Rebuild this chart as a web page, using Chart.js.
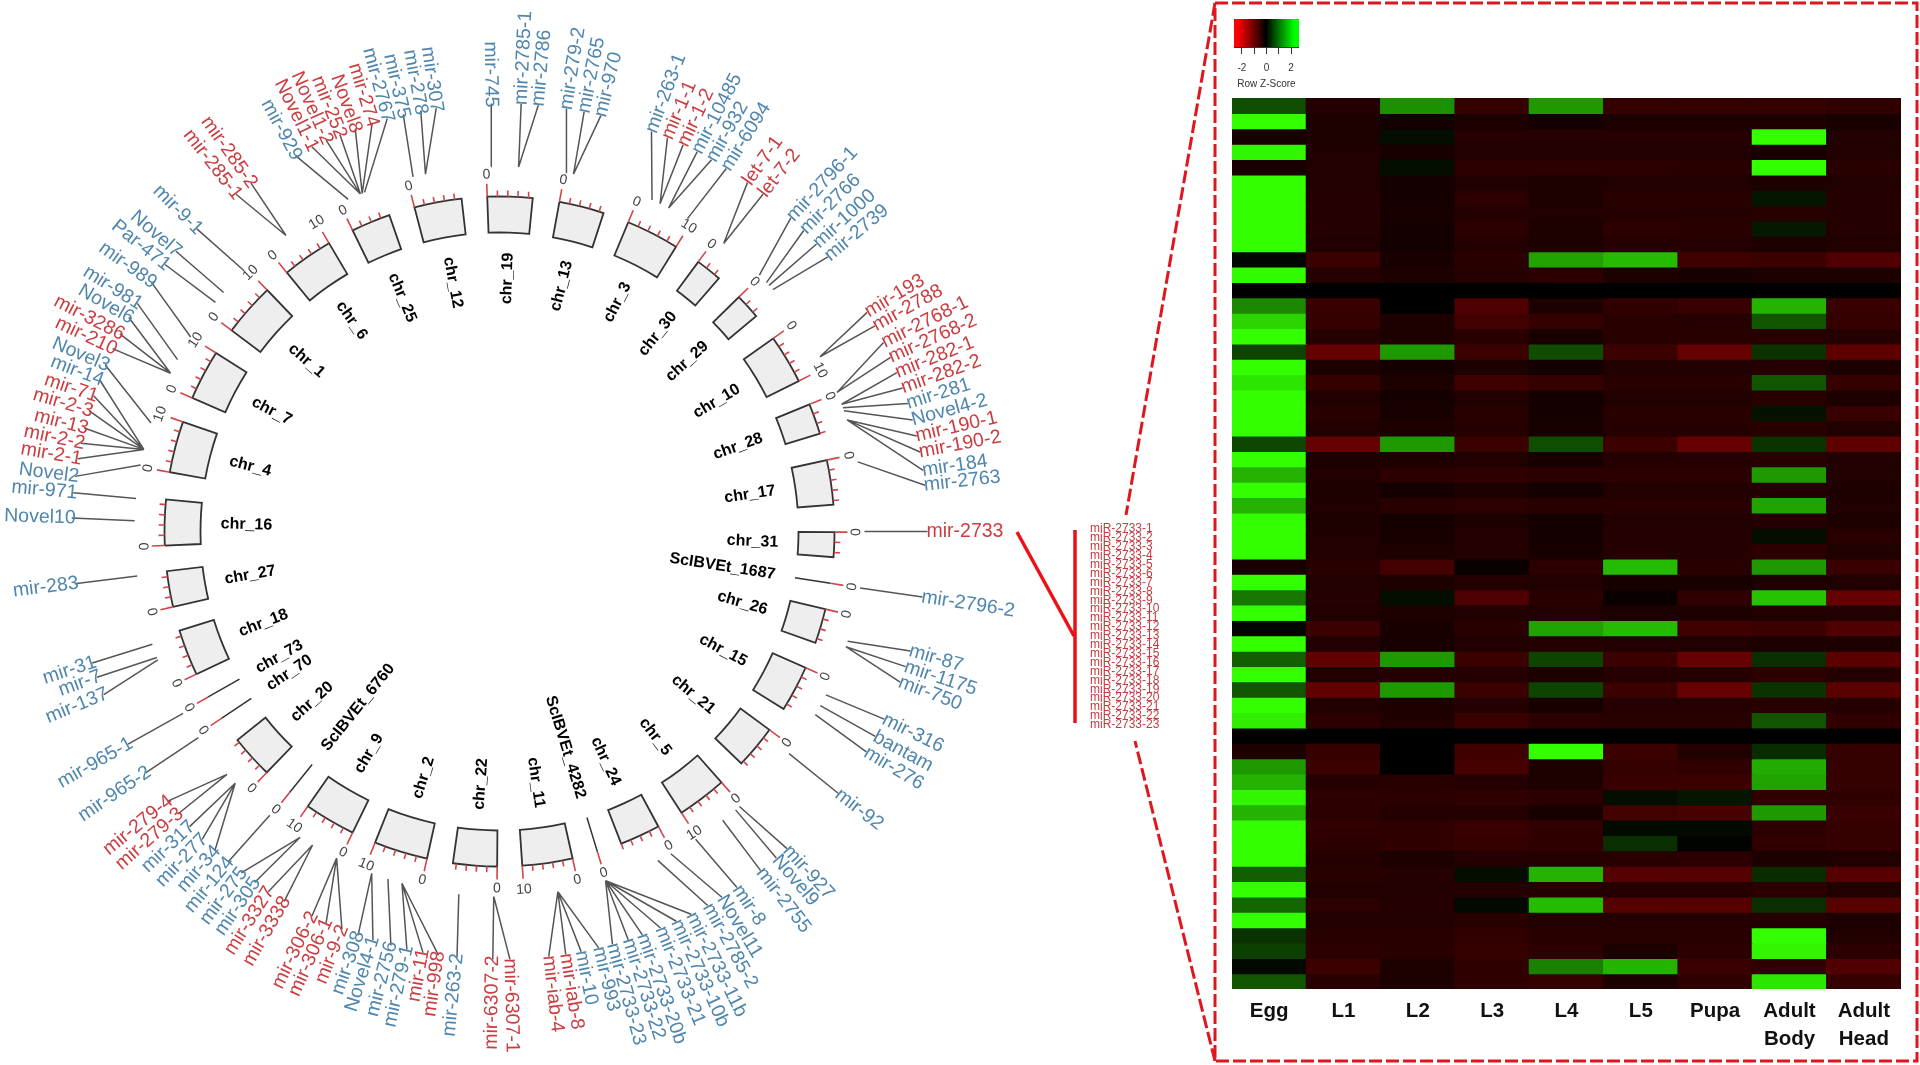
<!DOCTYPE html>
<html>
<head>
<meta charset="utf-8">
<title>mir circos and heatmap</title>
<script src="https://cdn.jsdelivr.net/npm/chart.js@4"></script>
<style>
	html, body { margin: 0; padding: 0; background: #fff; overflow: hidden; }
	#page { position: relative; width: 1920px; height: 1065px; }
	canvas { position: absolute; display: block; }
</style>
</head>
<body>
<div id="page">
	<canvas id="ringChart" style="left:0;top:0"></canvas>
	<canvas id="mainChart" style="left:0;top:0"></canvas>
	<canvas id="heatChart" style="left:1232px;top:98px"></canvas>
	<canvas id="keyChart" style="left:1234px;top:19px"></canvas>
</div>
<script>
/* =========================================
CHROMOSOME RING (degrees clockwise from top)
============================================*/
const chrNames = ["chr_19","chr_13","chr_3","chr_30","chr_29","chr_10","chr_28","chr_17","chr_31","ScIBVEt_1687","chr_26","chr_15","chr_21","chr_5","chr_24","ScIBVEt_4282","chr_11","chr_22","chr_2","chr_9","ScIBVEt_6760","chr_20","chr_70","chr_73","chr_18","chr_27","chr_16","chr_4","chr_7","chr_1","chr_6","chr_25","chr_12"];
const chrStart = [-2.1,10.3,22.6,36.4,45.6,54.8,67.7,77.7,90.1,98.9,103.4,114,126.3,138.5,151.7,163,167.4,180.4,192.5,206,218.8,224,236.1,240.4,244.8,257,267.6,280.2,293.5,306.9,320.6,334,345.3];
const chrSpan = [7.8,7.8,9.2,4.5,4.4,8.5,5.3,7.7,4.3,0,6,8,7.5,8.6,7,0,8.7,7.6,9.3,8.9,0,7.5,0,0,8,6.2,7.9,8.9,8.7,9.2,8.8,6.8,8.2];

/* =========================================
MIRNA LABELS: name, label angle, root angle
============================================*/
const mirNames = ["mir-745","mir-2785-1","mir-2786","mir-279-2","mir-2765","mir-970","mir-263-1","mir-1-1","mir-1-2","mir-10485","mir-932","mir-6094","let-7-1","let-7-2","mir-2796-1","mir-2766","mir-1000","mir-2739","mir-193","mir-2788","mir-2768-1","mir-2768-2","mir-282-1","mir-282-2","mir-281","Novel4-2","mir-190-1","mir-190-2","mir-184","mir-2763","mir-2733","mir-2796-2","mir-87","mir-1175","mir-750","mir-316","bantam","mir-276","mir-92","mir-927","Novel9","mir-2755","mir-8","Novel11","mir-2785-2","mir-2733-11b","mir-2733-10b","mir-2733-21","mir-2733-20b","mir-2733-22","mir-2733-23","mir-993","mir-10","mir-iab-8","mir-iab-4","mir-6307-1","mir-6307-2","mir-263-2","mir-998","mir-11","mir-279-1","mir-2756","Novel4-1","mir-308","mir-9-2","mir-306-1","mir-306-2","mir-3338","mir-3327","mir-305","mir-275","mir-124","mir-34","mir-277","mir-317","mir-279-3","mir-279-4","mir-965-2","mir-965-1","mir-137","mir-7","mir-31","mir-283","Novel10","mir-971","Novel2","mir-2-1","mir-2-2","mir-13","mir-2-3","mir-71","mir-14","Novel3","mir-210","mir-3286","Novel6","mir-981","mir-989","Par-471","Novel7","mir-9-1","mir-285-1","mir-285-2","mir-929","Novel1-1","Novel1-2","mir-252","Novel8","mir-274","mir-2767","mir-375","mir-278","mir-307"];
const mirAngle = [358.9,2.9,5.2,9,11.4,13.7,20.8,23.1,25.4,27.5,29.7,32,35.4,38,42.9,45.3,47.8,50.1,59.2,61.3,63.8,66,68.2,70.4,72.6,74.9,77.1,79.3,81.8,83.8,90,98.8,106.2,108.4,110.6,116,118.6,121,127.7,137.8,139.7,142.4,146.3,148.7,150.9,153.4,155.6,157.9,160.5,162.5,164.7,166.6,169,171.1,173.4,178.6,180.9,185.7,188.2,190.3,192.5,194.7,197.2,199.3,201.6,203.9,206,210.2,212.7,214.9,217.1,219.4,221.7,224,226.4,228.7,230.9,235.7,240.2,247.6,250.1,252.1,263,271.8,275.2,277.4,279.8,281.9,284,286.4,288.5,290.8,292.9,295.3,297.5,300,302.2,305.6,308.6,310.9,315,322,324.5,331.5,334,336.1,338.1,340.3,342.7,344.8,347,349.4,351.5];
const mirRoot = [358.7,3,3,10.6,11.7,11.7,24.7,26.1,26.1,27.6,27.6,31,37.9,37.9,45.4,47,47.6,48.5,61.4,61.4,67.6,67.6,69.6,69.6,70.2,70.7,72.2,72.2,72.2,79,90,98.9,107.5,108.4,108.4,116.6,118.5,120.1,127.5,138.9,139.7,142.3,147.5,152,154.3,163.1,163.1,163.1,163.1,163.1,163.1,170.8,170.8,170.8,170.8,180.9,180.9,186.4,195.5,195.5,195.5,197.8,200.5,200.5,206.5,206.5,206.5,210.8,210.8,213.1,213.1,219,226.4,226.4,226.4,228.3,228.3,235.6,240.1,249.4,249.8,252,263,271.7,275.2,280.5,283,283,283,283,283,283,287.3,295.7,295.7,295.7,298.1,302.2,308.9,310.9,315.6,324.2,324.2,335.5,337.6,337.6,337.6,337.9,337.9,338.3,346.3,348.3,348.3];
// these are red, everything else is blue
const redMirs = ["let-7-1","let-7-2","mir-1-1","mir-1-2","mir-193","mir-2788","mir-2768-1","mir-2768-2","mir-282-1","mir-282-2","mir-190-1","mir-190-2","mir-2733","mir-iab-8","mir-iab-4","mir-6307-1","mir-6307-2","mir-998","mir-11","mir-9-2","mir-306-1","mir-306-2","mir-3338","mir-3327","mir-279-3","mir-279-4","mir-2-1","mir-2-2","mir-13","mir-2-3","mir-71","mir-210","mir-3286","mir-285-1","mir-285-2","Novel1-1","Novel1-2","mir-252","Novel8","mir-274"];

/* =========================================
HEATMAP
============================================*/
const stages = ["Egg","L1","L2","L3","L4","L5","Pupa",["Adult","Body"],["Adult","Head"]];
const zRows = [
	[.9,-.4,1.7,-.6,1.8,-.6,-.6,-.6,-.55],
	[3,-.3,-.2,-.3,-.2,-.3,-.3,-.3,-.25],
	[-.25,-.3,.15,-.4,-.4,-.4,-.4,3,-.35],
	[2.9,-.35,-.25,-.35,-.35,-.35,-.35,-.25,-.35],
	[-.25,-.35,.15,-.5,-.5,-.5,-.45,3,-.45],
	[3,-.35,-.2,-.35,-.3,-.35,-.35,-.3,-.35],
	[3,-.4,-.2,-.5,-.3,-.45,-.45,.25,-.4],
	[3,-.4,-.25,-.4,-.35,-.4,-.4,-.45,-.4],
	[3,-.4,-.2,-.5,-.3,-.5,-.45,.3,-.4],
	[3,-.35,-.2,-.4,-.3,-.4,-.4,-.3,-.35],
	[.08,-.7,-.25,-.45,1.9,2.2,-.75,-.7,-1],
	[2.95,-.4,-.3,-.4,-.5,-.3,-.25,-.3,-.3],
	[0,0,0,0,0,0,0,0,0],
	[1.6,-.65,0,-.95,-.3,-.55,-.65,2.1,-.65],
	[2.5,-.6,-.3,-.8,-.6,-.45,-.4,1,-.6],
	[3,-.4,-.3,-.45,-.25,-.45,-.45,-.45,-.4],
	[.8,-1.3,1.8,-.7,.9,-.7,-1.35,.6,-1.2],
	[3,-.3,-.2,-.3,-.2,-.35,-.35,-.4,-.3],
	[2.7,-.6,-.3,-.75,-.6,-.45,-.45,1,-.6],
	[3,-.35,-.2,-.35,-.2,-.35,-.35,-.45,-.3],
	[3,-.45,-.25,-.45,-.2,-.45,-.45,.2,-.65],
	[3,-.35,-.3,-.4,-.25,-.4,-.4,-.45,-.35],
	[.85,-1.3,1.8,-.7,.9,-.7,-1.35,.6,-1.2],
	[3,-.3,-.3,-.35,-.25,-.4,-.4,-.45,-.35],
	[2.1,-.35,-.5,-.55,-.5,-.5,-.5,1.8,-.35],
	[3,-.3,-.2,-.3,-.2,-.35,-.35,-.4,-.3],
	[2.1,-.35,-.45,-.5,-.45,-.45,-.45,1.9,-.35],
	[3,-.3,-.2,-.3,-.2,-.35,-.35,-.4,-.3],
	[3,-.35,-.25,-.4,-.2,-.4,-.4,.15,-.45],
	[3,-.35,-.3,-.4,-.25,-.4,-.4,-.5,-.35],
	[-.25,-.45,-.8,-.1,-.5,2.2,-.45,1.8,-.65],
	[3,-.35,-.3,-.4,-.35,-.25,-.25,-.3,-.35],
	[1.4,-.4,.15,-.95,-.45,-.1,-.55,2.3,-1.3],
	[3,-.35,-.3,-.35,-.35,-.3,-.3,-.35,-.35],
	[.08,-.7,-.25,-.45,1.9,2.2,-.75,-.7,-1],
	[3,-.35,-.25,-.35,-.4,-.35,-.35,-.3,-.3],
	[1.1,-1.25,1.8,-.7,.8,-.7,-1.35,.55,-1.15],
	[3,-.35,-.4,-.4,-.3,-.4,-.4,-.5,-.4],
	[1,-1.25,1.8,-.7,.8,-.7,-1.35,.6,-1.15],
	[3,-.35,-.3,-.4,-.25,-.4,-.4,-.45,-.4],
	[2.8,-.5,-.35,-.7,-.5,-.45,-.45,1,-.55],
	[0,0,0,0,0,0,0,0,0],
	[-.3,-.6,0,-.75,3,-.7,-.35,.5,-.6],
	[1.8,-.7,0,-.85,-.3,-.6,-.55,2,-.6],
	[2.1,-.4,-.45,-.4,-.3,-.65,-.7,1.9,-.6],
	[2.9,-.5,-.5,-.55,-.5,.15,.25,-.55,-.55],
	[2.1,-.5,-.4,-.4,-.25,-.8,-.9,1.8,-.65],
	[3,-.55,-.55,-.65,-.55,.12,.12,-.5,-.6],
	[3,-.5,-.55,-.6,-.55,.55,.04,-.55,-.6],
	[3,-.4,-.3,-.4,-.4,-.45,-.5,-.3,-.35],
	[1.1,-.45,-.4,.15,2.1,-1.05,-1.05,.5,-1.05],
	[3,-.35,-.35,-.4,-.4,-.4,-.4,-.5,-.35],
	[1.2,-.5,-.4,.1,2.2,-1.05,-1.05,.55,-1.1],
	[3,-.35,-.35,-.45,-.35,-.4,-.4,-.4,-.3],
	[.6,-.45,-.45,-.55,-.45,-.45,-.45,3,-.35],
	[.75,-.5,-.45,-.6,-.5,-.3,-.5,2.9,-.5],
	[.1,-.7,-.3,-.55,1.5,2.1,-.65,-.55,-1],
	[1,-.45,-.3,-.55,-.6,-.3,-.55,2.7,-.6]
];

const keySteps = [-2.6,-2.4,-2.2,-2,-1.8,-1.6,-1.4,-1.2,-1,-.8,-.6,-.4,-.2,0,.2,.4,.6,.8,1,1.2,1.4,1.6,1.8,2,2.2,2.4,2.6];
const keyTicks = [-2,-1,0,1,2];

/* =========================================
CALLOUT (red list and dashed zoom box, in page units)
============================================*/
const calloutNames = ["miR-2733-1","miR-2733-2","miR-2733-3","miR-2733-4","miR-2733-5","miR-2733-6","miR-2733-7","miR-2733-8","miR-2733-9","miR-2733-10","miR-2733-11","miR-2733-12","miR-2733-13","miR-2733-14","miR-2733-15","miR-2733-16","miR-2733-17","miR-2733-18","miR-2733-19","miR-2733-20","miR-2733-21","miR-2733-22","miR-2733-23"];
const boxX = [1215,1917,1917,1215,1215];
const boxY = [3,3,1061,1061,3];
const slantTopX = [1215,1126];
const slantTopY = [3,515];
const slantBottomX = [1215,1135];
const slantBottomY = [1061,741];
const barX = [1075,1075];
const barY = [530,723];
const branchX = [1017,1074];
const branchY = [532,636];

/* layout of the ring */
const CX = 499.5, CY = 531.5;
const R_OUT = 335, R_IN = 299, R_ROOT = 365, R_LABEL = 428, R_CHR = 279, R_TICKTEXT = 357;
const R_TEXT_RIGHT = 427, R_TEXT_LEFT = 424;
const RED = "#cb3d40", BLUE = "#4f86ad", TICK_RED = "#d2454a", LINE = "#555555";
const SANS = "'Liberation Sans', Arial, sans-serif";

function polar(deg, r) {
	const a = deg * Math.PI / 180;
	return { x: CX + r * Math.sin(a), y: CY - r * Math.cos(a) };
}
function gap() { return { x: NaN, y: NaN }; }
function zip(xs, ys) { return xs.map((x, i) => ({ x: x, y: ys[i] })); }
function norm(deg) { return (deg + 360) % 360; }

// -3 dark red, 0 black, 3 lime
function zColor(z) {
	const t = Math.min(Math.abs(z) / 3, 1);
	if (z >= 0) return `rgb(${Math.round(50 * t)},${Math.round(255 * t)},0)`;
	return `rgb(${Math.round(255 * 0.8 * Math.pow(t, 0.85))},0,0)`;
}
function keyColor(v) {
	const t = Math.min(Math.abs(v) / 2.3, 1);
	return v >= 0 ? `rgb(0,${Math.round(255 * t)},0)` : `rgb(${Math.round(255 * t)},0,0)`;
}

/* ring: sectors + gaps as one doughnut */
const ringData = [], ringFill = [], ringBorder = [];
chrStart.forEach((s, i) => {
	const next = i + 1 < chrStart.length ? chrStart[i + 1] : chrStart[0] + 360;
	ringData.push(chrSpan[i]);
	ringFill.push(chrSpan[i] > 0 ? "#eeeeee" : "rgba(0,0,0,0)");
	ringBorder.push(chrSpan[i] > 0 ? "#333333" : "rgba(0,0,0,0)");
	ringData.push(next - s - chrSpan[i]);
	ringFill.push("rgba(0,0,0,0)");
	ringBorder.push("rgba(0,0,0,0)");
});

const ringCanvas = document.getElementById("ringChart");
ringCanvas.width = 999; ringCanvas.height = 1063;
new Chart(ringCanvas, {
	type: "doughnut",
	data: { datasets: [{ data: ringData, backgroundColor: ringFill, borderColor: ringBorder, borderWidth: 1.8, borderAlign: "center", borderJoinStyle: "miter" }] },
	options: {
		responsive: false, animation: false, devicePixelRatio: 1,
		rotation: chrStart[0], radius: R_OUT, cutout: (R_IN / R_OUT * 100) + "%",
		plugins: { legend: { display: false }, tooltip: { enabled: false } },
		layout: { padding: 0 }
	}
});

/* ticks, leaders and all the text around the ring */
const tickLines = [], stubLines = [], leaderLines = [], texts = [];

chrStart.forEach((s, i) => {
	const span = chrSpan[i], mid = s + span / 2;
	const step = span >= 8.5 ? span / 5 : 1.75;
	const count = span > 0 ? Math.floor(span / step + 0.001) : 0;
	for (let k = 0; k <= count; k++) {
		const a = s + k * step;
		const major = k === 0 || k === 5;
		tickLines.push(polar(a, R_OUT), polar(a, R_OUT + (major ? 13 : 6)), gap());
	}
	if (span === 0) stubLines.push(polar(s, R_IN), polar(s, R_OUT), gap());

	// 0 and 10 labels sit tangent to the ring
	const tangent = a => norm(a) > 90 && norm(a) < 270 ? a - 180 : a;
	texts.push({ t: "0", p: polar(s, R_TICKTEXT), rot: tangent(s), align: "center", color: "#444", font: "14px " + SANS });
	if (count >= 5) {
		const e = s + 5 * step;
		texts.push({ t: "10", p: polar(e, R_TICKTEXT + 2), rot: tangent(e), align: "center", color: "#444", font: "14px " + SANS });
	}

	const n = norm(mid);
	texts.push({
		t: chrNames[i], p: polar(mid, R_CHR),
		rot: n < 180 ? mid - 90 : mid - 270,
		align: n < 180 ? "right" : "left",
		color: "#000", font: "bold 16px " + SANS
	});
});

mirNames.forEach((name, i) => {
	const a = mirAngle[i];
	leaderLines.push(polar(mirRoot[i], R_ROOT), polar(a, R_LABEL), gap());
	const n = norm(a);
	texts.push({
		t: name, p: polar(a, n < 180 ? R_TEXT_RIGHT : R_TEXT_LEFT),
		rot: n < 180 ? a - 90 : a - 270,
		align: n < 180 ? "left" : "right",
		color: redMirs.includes(name) ? RED : BLUE,
		font: "19.5px " + SANS
	});
});

calloutNames.forEach((name, i) => {
	texts.push({ t: name, p: { x: 1090, y: 529 + i * 8.9 }, rot: 0, align: "left", color: "#c43a40", font: "12px " + SANS });
});

const textPlugin = {
	id: "pageText",
	afterDatasetsDraw(chart) {
		const ctx = chart.ctx, sx = chart.scales.x, sy = chart.scales.y;
		ctx.save();
		ctx.textBaseline = "middle";
		texts.forEach(d => {
			ctx.save();
			ctx.translate(sx.getPixelForValue(d.p.x), sy.getPixelForValue(d.p.y));
			ctx.rotate(d.rot * Math.PI / 180);
			ctx.font = d.font;
			ctx.fillStyle = d.color;
			ctx.textAlign = d.align;
			ctx.fillText(d.t, 0, 0);
			ctx.restore();
		});
		ctx.restore();
	}
};

function lineSet(data, color, width, dash) {
	return { data: data, showLine: true, borderColor: color, borderWidth: width, borderDash: dash || [], pointRadius: 0, fill: false, clip: false };
}

const mainCanvas = document.getElementById("mainChart");
mainCanvas.width = 1920; mainCanvas.height = 1065;
new Chart(mainCanvas, {
	type: "scatter",
	data: {
		datasets: [
			lineSet(leaderLines, LINE, 1.5),
			lineSet(stubLines, "#333333", 1.5),
			lineSet(tickLines, TICK_RED, 1.6),
			lineSet(zip(boxX, boxY), "#e0161e", 3, [13, 4]),
			lineSet(zip(slantTopX, slantTopY), "#e0161e", 3, [13, 4]),
			lineSet(zip(slantBottomX, slantBottomY), "#e0161e", 3, [13, 4]),
			lineSet(zip(barX, barY), "#ea1219", 3.5),
			lineSet(zip(branchX, branchY), "#ea1219", 3.5)
		]
	},
	options: {
		responsive: false, animation: false, devicePixelRatio: 1,
		layout: { padding: 0 },
		plugins: { legend: { display: false }, tooltip: { enabled: false } },
		scales: {
			x: { type: "linear", display: false, min: 0, max: 1920 },
			y: { type: "linear", display: false, min: 0, max: 1065, reverse: true }
		}
	},
	plugins: [textPlugin]
});

/* heatmap: one stacked dataset per row */
const heatCanvas = document.getElementById("heatChart");
heatCanvas.width = 669; heatCanvas.height = 965;
new Chart(heatCanvas, {
	type: "bar",
	data: {
		labels: stages,
		datasets: zRows.map(row => ({
			data: stages.map(() => 1),
			backgroundColor: row.map(zColor),
			borderWidth: 0,
			inflateAmount: 0.6,
			barPercentage: 1,
			categoryPercentage: 1
		}))
	},
	options: {
		responsive: false, animation: false, devicePixelRatio: 1,
		layout: { padding: 0 },
		plugins: { legend: { display: false }, tooltip: { enabled: false } },
		scales: {
			x: {
				stacked: true,
				grid: { display: false, drawTicks: false },
				border: { display: false },
				afterFit: s => { s.height = 74; },
				ticks: { color: "#111", maxRotation: 0, autoSkip: false, padding: 9, font: { family: SANS, size: 20.5, weight: "bold", lineHeight: 1.35 } }
			},
			y: { stacked: true, display: false, min: 0, max: zRows.length, reverse: true }
		}
	}
});

/* colour key */
const keyCanvas = document.getElementById("keyChart");
keyCanvas.width = 65; keyCanvas.height = 71;
new Chart(keyCanvas, {
	type: "bar",
	data: {
		datasets: [{
			data: keySteps.map(v => ({ x: v, y: 1 })),
			backgroundColor: keySteps.map(keyColor),
			barPercentage: 1,
			categoryPercentage: 1,
			borderWidth: 0,
			inflateAmount: 0.6
		}]
	},
	options: {
		responsive: false, animation: false, devicePixelRatio: 1,
		layout: { padding: 0 },
		plugins: { legend: { display: false }, tooltip: { enabled: false } },
		scales: {
			x: {
				type: "linear", min: -2.65, max: 2.65, offset: false,
				afterBuildTicks: s => { s.ticks = keyTicks.map(v => ({ value: v })); },
				// tick padding leaks into the side padding, the key should fill the canvas
				afterFit: s => { s.height = 43; s.paddingLeft = 0; s.paddingRight = 0; },
				grid: { drawOnChartArea: false, offset: false, color: "#333", tickLength: 7 },
				border: { color: "#333" },
				ticks: {
					color: "#333", padding: 8, maxRotation: 0, autoSkip: false,
					font: { family: SANS, size: 10 },
					callback: v => (v % 2 === 0 ? String(v) : "")
				},
				title: { display: true, text: "Row Z-Score", color: "#333", font: { family: SANS, size: 10 }, padding: { top: 2, bottom: 0 } }
			},
			y: { display: false, min: 0, max: 1 }
		}
	}
});
</script>
</body>
</html>
